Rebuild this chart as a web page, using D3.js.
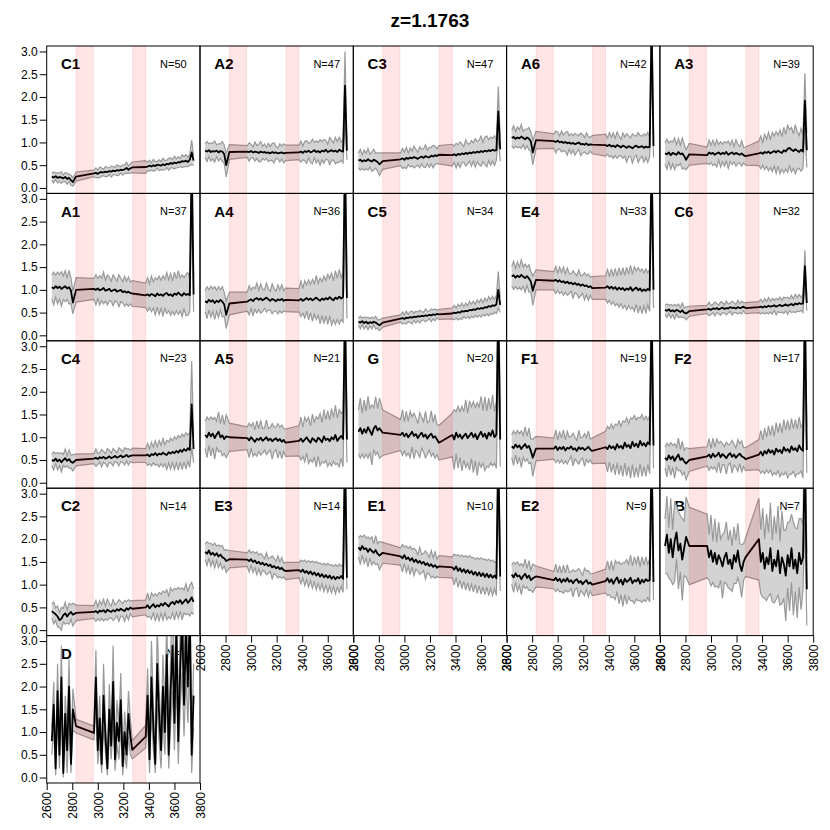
<!DOCTYPE html>
<html><head><meta charset="utf-8">
<script src="https://cdn.jsdelivr.net/npm/d3@7"></script>
<style>body{margin:0;background:#fff}svg{display:block}</style>
</head><body>
<script>
const TITLE = "z=1.1763";
const WAVE = [2640,2655,2670,2685,2700,2715,2730,2745,2760,2775,2790,2805,2830,
  2970,2985,3000,3015,3030,3045,3060,3075,3090,3105,3120,3135,3150,3165,3180,3195,3210,3225,3240,3255,3270,
  3375,3390,3405,3420,3435,3450,3465,3480,3495,3510,3525,3540,3555,3570,3585,3600,3615,3630,3645,3660,3675,3690,3705,3720,3735,3750];
const BANDS = [[2830,2965],[3273,3375]];
const X_TICKS = [2600,2800,3000,3200,3400,3600,3800];
const Y_TICKS = [0,0.5,1,1.5,2,2.5,3];
const NAMES = ["C1","A2","C3","A6","A3","A1","A4","C5","E4","C6","C4","A5","G","F1","F2","C2","E3","E1","E2","B","D"];
const COUNTS = [50,47,47,42,39,37,36,34,33,32,23,21,20,19,17,14,14,10,9,7,2];

const m_C1=[.25,.23,.26,.22,.24,.23,.21,.24,.2,.22,.17,.13,.25, .32,.33,.31,.34,.35,.34,.36,.35,.37,.36,.38,.37,.39,.38,.40,.39,.41,.44,.40,.43,.45, .46,.47,.49,.47,.5,.48,.51,.5,.49,.52,.5,.53,.52,.55,.53,.56,.54,.57,.56,.59,.58,.6,.57,.62,.78,.6];
const s_C1=[.08,.12,.07,.11,.09,.13,.07,.1,.12,.08,.11,.09,.1, .07,.11,.08,.12,.09,.07,.11,.1,.07,.12,.09,.08,.12,.1,.07,.11,.09,.12,.08,.1,.12, .14,.09,.12,.08,.13,.1,.07,.12,.09,.13,.1,.08,.13,.11,.09,.14,.1,.12,.09,.14,.11,.13,.1,.12,.27,.1];
const m_A2=[.82,.8,.83,.79,.81,.8,.82,.78,.81,.8,.74,.5,.79, .8,.79,.81,.78,.8,.79,.77,.8,.78,.79,.77,.78,.76,.79,.77,.78,.76,.77,.78,.76,.77, .78,.8,.77,.81,.79,.82,.78,.8,.83,.79,.81,.78,.82,.8,.84,.79,.81,.83,.8,.82,.79,.84,.81,.8,2.25,.82];
const s_A2=[.15,.22,.14,.2,.17,.23,.13,.19,.16,.22,.2,.26,.16, .13,.2,.15,.12,.21,.14,.19,.22,.13,.18,.12,.2,.15,.19,.22,.13,.12,.2,.14,.21,.17, .16,.23,.15,.21,.25,.16,.22,.27,.17,.24,.19,.28,.2,.26,.21,.17,.3,.22,.19,.29,.23,.28,.2,.25,.75,.2];
const m_C3=[.6,.62,.58,.61,.59,.63,.6,.58,.62,.6,.57,.52,.59, .63,.65,.62,.66,.64,.67,.65,.68,.66,.64,.67,.69,.66,.7,.68,.67,.71,.69,.72,.7,.73, .72,.74,.71,.75,.73,.76,.74,.77,.75,.78,.76,.79,.77,.8,.78,.81,.79,.82,.8,.83,.81,.84,.82,.83,1.68,.85];
const s_C3=[.16,.23,.15,.22,.17,.24,.14,.21,.23,.16,.2,.25,.18, .14,.22,.17,.23,.13,.21,.16,.24,.19,.14,.23,.16,.2,.25,.15,.22,.18,.25,.2,.16,.2, .24,.18,.27,.2,.28,.21,.17,.29,.22,.19,.28,.2,.31,.22,.27,.33,.21,.3,.34,.23,.31,.25,.33,.22,.55,.26];
const m_A6=[1.1,1.12,1.08,1.11,1.09,1.13,1.1,1.07,1.11,1.08,1.02,.78,1.05, 1.03,1.01,1.04,1.0,1.02,.99,1.01,.98,1.0,.97,.99,.96,.98,1.0,.96,.97,.95,.98,.94,.96,.95, .94,.92,.95,.91,.93,.9,.94,.92,.89,.93,.91,.88,.92,.9,.87,.91,.93,.89,.9,.92,.88,.91,.89,.9,3.6,.92];
const s_A6=[.17,.25,.16,.23,.19,.26,.15,.22,.18,.25,.21,.27,.19, .16,.24,.19,.14,.23,.17,.21,.26,.15,.22,.16,.24,.19,.15,.25,.2,.16,.23,.19,.15,.2, .24,.18,.27,.2,.28,.19,.29,.22,.18,.28,.21,.31,.23,.2,.32,.24,.21,.33,.25,.22,.31,.24,.33,.21,.8,.25];
const m_A3=[.76,.74,.78,.72,.77,.75,.73,.79,.74,.76,.7,.62,.74, .72,.78,.75,.77,.73,.76,.78,.74,.77,.75,.79,.73,.76,.78,.74,.77,.75,.73,.76,.72,.7, .76,.78,.75,.79,.77,.8,.76,.79,.81,.78,.82,.79,.77,.83,.8,.86,.88,.84,.81,.85,.82,.79,.84,.8,1.92,.83];
const s_A3=[.23,.33,.21,.31,.24,.35,.22,.3,.2,.34,.26,.22,.24, .18,.27,.19,.28,.2,.3,.17,.28,.19,.27,.2,.3,.18,.27,.17,.29,.21,.18,.28,.17,.2, .27,.36,.25,.39,.3,.42,.31,.43,.33,.46,.34,.48,.36,.5,.38,.52,.4,.49,.38,.54,.41,.36,.47,.37,.6,.38];
const m_A1=[1.06,1.03,1.08,1.04,1.07,1.02,1.05,1.08,1.03,1.06,.98,.72,1.0, 1.02,1.0,1.03,.99,1.01,1.04,.98,1.0,1.02,.97,.99,1.01,.96,.98,1.0,.95,.97,.94,.96,.93,.92, .88,.9,.87,.91,.89,.86,.92,.88,.9,.87,.91,.93,.88,.9,.86,.92,.89,.94,.9,.87,.93,.89,.91,.88,3.8,.9];
const s_A1=[.26,.36,.24,.35,.27,.38,.26,.34,.24,.37,.28,.25,.27, .23,.33,.22,.32,.25,.35,.23,.33,.26,.22,.34,.25,.23,.35,.26,.23,.33,.25,.32,.24,.28, .27,.37,.26,.39,.29,.41,.3,.42,.31,.44,.32,.45,.34,.46,.33,.47,.35,.48,.36,.46,.34,.45,.47,.36,.9,.38];
const m_A4=[.75,.72,.78,.74,.77,.71,.76,.73,.78,.74,.68,.45,.7, .74,.77,.79,.75,.8,.82,.78,.81,.77,.8,.83,.79,.76,.8,.78,.75,.79,.77,.8,.76,.78, .77,.8,.76,.79,.82,.78,.81,.77,.8,.83,.79,.76,.81,.78,.82,.79,.84,.8,.77,.83,.8,.85,.81,.84,3.9,.82];
const s_A4=[.23,.35,.22,.34,.25,.36,.23,.34,.22,.33,.26,.3,.25, .21,.32,.2,.31,.23,.33,.21,.32,.25,.2,.32,.23,.21,.33,.25,.22,.32,.23,.31,.22,.26, .26,.39,.27,.41,.29,.44,.31,.46,.33,.48,.35,.5,.37,.52,.39,.55,.41,.57,.43,.59,.45,.6,.46,.55,.9,.45];
const m_C5=[.3,.28,.31,.27,.3,.26,.29,.27,.3,.28,.25,.22,.28, .37,.38,.36,.39,.38,.4,.39,.41,.4,.42,.41,.43,.42,.44,.43,.45,.44,.46,.45,.47,.46, .48,.5,.49,.51,.5,.53,.52,.54,.53,.56,.55,.57,.56,.59,.58,.6,.59,.62,.61,.64,.63,.66,.65,.68,1.0,.67];
const s_C5=[.08,.14,.07,.13,.09,.14,.08,.13,.07,.14,.09,.12,.1, .08,.13,.09,.14,.08,.12,.14,.08,.13,.09,.14,.1,.08,.14,.1,.08,.14,.1,.13,.08,.11, .12,.16,.11,.17,.13,.18,.11,.17,.12,.19,.13,.18,.12,.19,.14,.2,.13,.2,.14,.21,.15,.2,.14,.2,.4,.17];
const m_E4=[1.3,1.32,1.27,1.31,1.28,1.33,1.29,1.26,1.3,1.25,1.18,.98,1.22, 1.2,1.22,1.18,1.21,1.17,1.19,1.15,1.18,1.14,1.16,1.12,1.15,1.11,1.13,1.09,1.12,1.08,1.1,1.06,1.08,1.04, 1.05,1.08,1.03,1.07,1.02,1.06,1.0,1.05,1.01,1.04,.99,1.03,1.0,1.06,.98,1.02,1.05,.99,1.03,.97,1.01,.98,1.02,.99,3.9,1.0];
const s_E4=[.21,.31,.2,.3,.22,.33,.21,.31,.2,.3,.23,.32,.22, .2,.3,.19,.29,.21,.31,.2,.3,.22,.19,.3,.21,.2,.31,.22,.2,.3,.21,.29,.2,.25, .26,.37,.26,.39,.28,.41,.3,.43,.31,.45,.33,.47,.34,.48,.36,.49,.37,.5,.38,.49,.36,.48,.35,.46,.9,.4];
const m_C6=[.56,.54,.57,.53,.55,.52,.56,.54,.51,.55,.5,.48,.53, .57,.58,.56,.59,.58,.6,.57,.59,.61,.58,.6,.59,.62,.6,.61,.59,.62,.6,.61,.63,.6, .62,.63,.61,.64,.62,.65,.63,.64,.66,.63,.65,.67,.64,.66,.68,.65,.67,.69,.66,.7,.68,.71,.69,.7,1.52,.71];
const s_C6=[.1,.15,.09,.15,.1,.16,.09,.15,.1,.16,.1,.14,.11, .09,.15,.1,.09,.15,.1,.09,.15,.11,.09,.15,.1,.09,.15,.11,.09,.15,.1,.14,.09,.12, .12,.16,.11,.17,.12,.18,.12,.17,.11,.18,.13,.17,.13,.18,.14,.19,.13,.19,.14,.2,.15,.19,.14,.2,.35,.17];
const m_C4=[.5,.48,.53,.47,.51,.45,.5,.54,.48,.52,.46,.44,.5, .53,.55,.52,.56,.54,.57,.53,.55,.58,.54,.56,.59,.55,.57,.6,.56,.58,.61,.57,.59,.6, .6,.62,.58,.63,.61,.65,.6,.64,.62,.66,.63,.61,.67,.64,.68,.65,.7,.66,.72,.68,.74,.7,.76,.72,1.72,.74];
const s_C4=[.12,.2,.11,.19,.13,.21,.12,.2,.11,.2,.14,.18,.13, .11,.19,.12,.1,.19,.12,.11,.2,.13,.11,.19,.12,.11,.2,.13,.12,.19,.13,.18,.12,.16, .15,.24,.16,.26,.17,.27,.19,.29,.2,.31,.21,.32,.23,.34,.24,.36,.26,.38,.27,.39,.28,.4,.29,.38,.95,.3];
const m_A5=[1.05,1.0,1.1,1.02,1.08,.98,1.06,1.12,1.0,1.04,.96,1.02,1.0, .98,.93,1.0,.95,.9,.97,.94,.99,.92,.96,1.0,.93,.97,.91,.95,.98,.92,.96,.9,.94,.88, .92,.97,.9,.95,1.0,.93,.88,.98,.94,.9,.99,.95,.89,1.02,.94,.97,.91,1.0,.95,1.05,.92,.98,1.03,.96,3.8,.95];
const s_A5=[.3,.45,.28,.43,.31,.46,.29,.44,.3,.45,.32,.47,.31, .25,.38,.24,.37,.26,.39,.25,.38,.27,.24,.38,.26,.25,.39,.27,.25,.38,.26,.37,.25,.3, .33,.47,.32,.49,.35,.51,.37,.53,.39,.55,.41,.57,.43,.59,.45,.61,.47,.63,.48,.65,.5,.63,.49,.61,1.0,.5];
const m_G=[1.12,1.2,1.08,1.18,1.1,1.22,1.14,1.05,1.19,1.25,1.15,1.2,1.1, 1.05,1.1,1.02,1.08,1.0,1.06,1.12,1.03,1.07,.98,1.05,1.1,1.01,1.06,.97,1.04,1.08,.99,1.02,.95,.88, 1.05,.95,1.1,1.0,1.06,.97,1.03,1.08,.98,1.04,1.1,1.0,1.07,.96,1.05,1.12,1.01,1.08,.97,1.1,1.03,1.15,1.0,1.06,3.9,.95];
const s_G=[.48,.66,.45,.64,.47,.68,.49,.66,.46,.64,.48,.66,.5, .34,.5,.32,.49,.35,.51,.33,.5,.36,.32,.49,.34,.33,.51,.35,.32,.5,.34,.48,.33,.38, .48,.66,.46,.68,.5,.71,.53,.74,.55,.76,.57,.78,.59,.8,.61,.78,.58,.81,.61,.76,.59,.78,.57,.74,1.2,.6];
const m_F1=[.8,.76,.84,.78,.82,.74,.8,.85,.77,.81,.7,.55,.75, .75,.8,.72,.78,.74,.79,.71,.77,.75,.8,.73,.76,.7,.78,.74,.77,.72,.75,.79,.73,.7, .78,.74,.82,.76,.8,.73,.85,.77,.81,.75,.88,.79,.83,.76,.9,.8,.86,.78,.92,.82,.87,.8,.89,.84,3.8,.82];
const s_F1=[.25,.38,.23,.37,.26,.4,.24,.38,.25,.39,.26,.41,.27, .23,.36,.22,.35,.24,.37,.23,.36,.25,.22,.36,.24,.23,.37,.25,.23,.36,.24,.35,.23,.28, .35,.5,.36,.53,.39,.56,.41,.59,.43,.61,.45,.64,.47,.66,.5,.68,.52,.66,.5,.68,.51,.66,.49,.64,1.1,.5];
const m_F2=[.55,.5,.6,.52,.58,.48,.56,.62,.5,.54,.47,.42,.5, .58,.62,.55,.64,.57,.6,.66,.56,.63,.59,.54,.61,.65,.57,.62,.55,.6,.64,.58,.56,.52, .62,.68,.6,.7,.64,.73,.66,.71,.62,.75,.68,.72,.65,.78,.7,.74,.67,.8,.72,.76,.69,.82,.74,.7,3.8,.72];
const s_F2=[.23,.37,.21,.36,.24,.38,.22,.36,.23,.37,.24,.35,.25, .21,.35,.2,.34,.22,.36,.21,.35,.23,.2,.35,.22,.21,.36,.23,.21,.35,.22,.34,.21,.25, .33,.47,.34,.5,.36,.52,.38,.55,.4,.57,.42,.59,.44,.61,.46,.63,.48,.61,.47,.63,.49,.62,.48,.6,1.0,.5];
const m_C2=[.42,.38,.35,.3,.22,.25,.33,.37,.3,.36,.4,.34,.38, .4,.42,.38,.43,.41,.44,.39,.45,.42,.4,.44,.41,.46,.43,.47,.44,.42,.48,.45,.5,.47, .5,.55,.48,.53,.57,.5,.55,.52,.58,.54,.6,.56,.52,.59,.62,.57,.64,.6,.66,.58,.63,.68,.6,.65,.72,.62];
const s_C2=[.15,.24,.14,.23,.16,.25,.15,.24,.14,.23,.16,.25,.17, .14,.23,.13,.22,.15,.24,.14,.23,.16,.13,.23,.15,.14,.24,.16,.14,.23,.15,.22,.14,.18, .16,.27,.17,.29,.18,.3,.2,.31,.21,.32,.22,.33,.23,.34,.24,.35,.25,.34,.24,.35,.25,.34,.24,.34,.33,.28];
const m_E3=[1.72,1.68,1.75,1.66,1.7,1.64,1.69,1.62,1.66,1.6,1.58,1.52,1.56, 1.55,1.52,1.56,1.5,1.53,1.47,1.5,1.45,1.48,1.43,1.46,1.41,1.44,1.38,1.41,1.36,1.39,1.34,1.37,1.32,1.3, 1.32,1.28,1.33,1.26,1.3,1.24,1.29,1.22,1.27,1.2,1.25,1.18,1.23,1.16,1.21,1.15,1.2,1.13,1.18,1.12,1.17,1.14,1.19,1.13,3.9,1.15];
const s_E3=[.17,.26,.16,.25,.17,.27,.16,.25,.18,.26,.17,.25,.19, .15,.24,.14,.23,.16,.25,.15,.24,.16,.14,.24,.16,.15,.25,.17,.15,.24,.16,.23,.15,.19, .17,.26,.18,.28,.19,.29,.2,.3,.21,.31,.22,.3,.21,.31,.22,.32,.23,.31,.22,.32,.23,.31,.22,.3,.9,.25];
const m_E1=[1.82,1.76,1.85,1.78,1.8,1.72,1.79,1.74,1.7,1.76,1.68,1.64,1.7, 1.62,1.58,1.65,1.56,1.6,1.53,1.58,1.5,1.55,1.48,1.52,1.46,1.5,1.43,1.47,1.41,1.45,1.39,1.43,1.37,1.4, 1.38,1.33,1.4,1.3,1.36,1.28,1.34,1.26,1.32,1.25,1.3,1.22,1.28,1.2,1.27,1.19,1.25,1.17,1.24,1.16,1.22,1.15,1.2,1.14,3.9,1.18];
const s_E1=[.21,.32,.2,.31,.22,.33,.21,.31,.2,.32,.22,.31,.23, .19,.3,.18,.29,.2,.31,.19,.3,.21,.18,.3,.2,.19,.31,.21,.19,.3,.2,.29,.19,.24, .23,.34,.24,.36,.26,.37,.27,.38,.28,.39,.29,.38,.28,.39,.29,.4,.3,.39,.29,.4,.3,.39,.29,.38,1.0,.32];
const m_E2=[1.22,1.16,1.25,1.18,1.2,1.12,1.19,1.24,1.15,1.2,1.1,1.14,1.18, 1.1,1.15,1.08,1.13,1.05,1.12,1.07,1.14,1.06,1.1,1.03,1.09,1.12,1.04,1.08,1.01,1.06,1.1,1.02,1.05,1.0, 1.08,1.14,1.05,1.12,1.02,1.1,1.16,1.04,1.11,1.0,1.13,1.06,1.09,1.15,1.03,1.1,1.07,1.14,1.02,1.11,1.05,1.12,1.08,1.1,3.9,1.06];
const s_E2=[.21,.33,.2,.32,.22,.34,.21,.32,.2,.33,.22,.31,.23, .19,.3,.18,.29,.2,.31,.19,.3,.21,.18,.3,.2,.19,.31,.21,.19,.3,.2,.29,.19,.24, .26,.38,.27,.41,.29,.43,.31,.46,.33,.48,.35,.49,.36,.5,.38,.51,.39,.49,.37,.5,.38,.49,.36,.48,1.0,.4];
const m_B=[1.85,2.1,1.7,2.0,1.6,1.95,2.15,1.75,1.9,1.55,1.8,2.05,1.85, 1.85,1.6,1.75,1.5,1.7,1.45,1.65,1.55,1.4,1.6,1.7,1.45,1.55,1.35,1.65,1.5,1.75,1.45,1.3,1.5,1.6, 2.0,1.5,1.7,1.35,1.6,1.45,1.8,1.3,1.55,1.4,1.75,1.25,1.6,1.45,1.2,1.65,1.4,1.8,1.35,1.55,1.25,1.7,1.45,1.6,3.9,.9];
const s_B=[.6,.85,.55,.9,.6,.88,.58,.85,.62,.9,.6,.88,.85, .7,.5,.78,.45,.75,.48,.72,.45,.7,.55,.68,.52,.65,.5,.62,.48,.6,.45,.58,.4,.42, .9,.7,.98,.65,.95,.7,1.0,.68,.95,.72,.98,.7,1.02,.75,1.0,.72,.98,.75,1.02,.7,.98,.75,1.0,.72,1.5,.8];
const m_D=[.8,1.6,.2,1.9,.5,2.2,.1,1.4,.6,2.0,.3,1.5,1.13, .98,2.2,.6,1.3,.3,1.8,.9,.2,1.5,.7,2.1,.4,1.2,.8,1.7,.25,1.0,.5,1.4,.9,.61, .9,1.8,.4,2.2,1.1,.3,2.5,1.4,.6,2.0,1.0,2.7,.5,1.9,2.9,1.2,3.3,.8,2.4,3.5,1.6,3.2,2.0,3.6,.5,1.8];
const s_D=[.3,.5,.15,.6,.3,.7,.1,.4,.5,.6,.2,.45,.15, .15,.6,.3,.5,.2,.7,.35,.15,.55,.3,.8,.25,.5,.4,.6,.2,.45,.3,.5,.4,.2, .25,.6,.3,.8,.5,.2,.9,.6,.4,.7,.5,.9,.3,.8,1.0,.6,1.1,.5,.9,1.2,.7,1.0,.8,1.2,.4,.7];

const MEANS = [m_C1,m_A2,m_C3,m_A6,m_A3,m_A1,m_A4,m_C5,m_E4,m_C6,m_C4,m_A5,m_G,m_F1,m_F2,m_C2,m_E3,m_E1,m_E2,m_B,m_D];
const SDS = [s_C1,s_A2,s_C3,s_A6,s_A3,s_A1,s_A4,s_C5,s_E4,s_C6,s_C4,s_A5,s_G,s_F1,s_F2,s_C2,s_E3,s_E1,s_E2,s_B,s_D];

const W = 830, H = 830;
const LEFT = 46.7, TOP = 46, PW = 153.3, PH = 147.4, NCOL = 5;
const FONT = "'Liberation Sans', Arial, Helvetica, sans-serif";

const svg = d3.select("body").append("svg").attr("width", W).attr("height", H)
  .style("font-family", FONT);

svg.append("text").attr("x", LEFT + PW * 2.5).attr("y", 27)
  .attr("text-anchor", "middle").attr("font-weight", "bold").attr("font-size", 19)
  .text(TITLE);

const x = d3.scaleLinear().domain([2600, 3800]).range([0, PW]);
const y = d3.scaleLinear().domain([-0.12, 3.12]).range([PH, 0]);

const bad = [];
NAMES.forEach((name, i) => {
  const mean = MEANS[i], sd = SDS[i];
  if (mean.length !== WAVE.length || sd.length !== WAVE.length) bad.push(name + ":" + mean.length + "/" + sd.length);
  const r = Math.floor(i / NCOL), c = i % NCOL;
  const g = svg.append("g").attr("transform", `translate(${LEFT + c * PW},${TOP + r * PH})`);
  const clipId = "clip" + i;
  g.append("clipPath").attr("id", clipId).append("rect").attr("width", PW).attr("height", PH);
  const inner = g.append("g").attr("clip-path", `url(#${clipId})`);

  inner.append("text").attr("x", 14.3).attr("y", 23.3).attr("font-weight", "bold")
    .attr("font-size", 15).text(name);
  inner.append("text").attr("x", PW - 13.3).attr("y", 21.7).attr("text-anchor", "end")
    .attr("font-size", 11).text("N=" + COUNTS[i]);

  const n = Math.min(WAVE.length, mean.length, sd.length);
  const pts = d3.range(n).map(k => ({ w: WAVE[k], m: mean[k], s: sd[k] }));

  inner.append("path").datum(pts)
    .attr("d", d3.area().x(d => x(d.w)).y0(d => y(d.m - d.s)).y1(d => y(d.m + d.s)))
    .attr("fill", "#d3d3d3");
  [1, -1].forEach(sign => {
    inner.append("path").datum(pts)
      .attr("d", d3.line().x(d => x(d.w)).y(d => y(d.m + sign * d.s)))
      .attr("fill", "none").attr("stroke", "#999").attr("stroke-width", 1.2);
  });
  inner.append("path").datum(pts)
    .attr("d", d3.line().x(d => x(d.w)).y(d => y(d.m)))
    .attr("fill", "none").attr("stroke", "#000").attr("stroke-width", 1.8)
    .attr("stroke-linejoin", "round");

  BANDS.forEach(b => {
    inner.append("rect").attr("x", x(b[0])).attr("y", 0)
      .attr("width", x(b[1]) - x(b[0])).attr("height", PH)
      .attr("fill", "rgba(255,0,0,0.1)").attr("stroke", "rgba(255,0,0,0.1)");
  });

  g.append("rect").attr("width", PW).attr("height", PH)
    .attr("fill", "none").attr("stroke", "#000").attr("stroke-width", 1);

  if (c === 0) {
    const ax = g.append("g").call(d3.axisLeft(y).tickValues(Y_TICKS).tickFormat(d3.format(".1f"))
      .tickSize(7).tickPadding(2));
    ax.select(".domain").remove();
    ax.selectAll("line").attr("stroke", "#000");
    ax.selectAll("text").attr("font-size", 12).attr("font-family", FONT).attr("fill", "#000");
  }
  if (i + NCOL >= NAMES.length) {
    const ax = g.append("g").attr("transform", `translate(0,${PH})`)
      .call(d3.axisBottom(x).tickValues(X_TICKS).tickFormat(d3.format("d")).tickSize(7));
    ax.select(".domain").remove();
    ax.selectAll("line").attr("stroke", "#000");
    ax.selectAll("text").attr("font-size", 12).attr("font-family", FONT).attr("fill", "#000")
      .attr("transform", "rotate(-90)").attr("text-anchor", "end")
      .attr("x", -9).attr("y", 0).attr("dy", "0.35em");
  }
});
if (bad.length) svg.append("text").attr("x", 300).attr("y", 700).attr("fill", "red").text(bad.join(" "));
</script>
</body></html>
